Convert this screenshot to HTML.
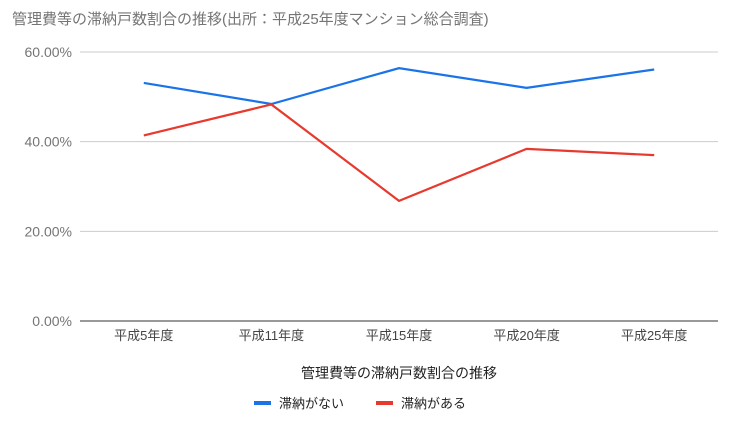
<!DOCTYPE html>
<html><head><meta charset="utf-8"><style>
body{margin:0;background:#fff;}
svg{display:block;font-family:"Liberation Sans","Noto Sans CJK JP",sans-serif;}
</style></head><body>
<svg id="chart" width="730" height="430">
<text x="12" y="24" font-size="15" fill="#757575">管理費等の滞納戸数割合の推移(出所：平成25年度マンション総合調査)</text>
<g id="grid"></g><g id="series"></g>
<text x="399" y="378" font-size="14" fill="#222" text-anchor="middle">管理費等の滞納戸数割合の推移</text>
<g>
<rect x="254" y="401" width="17" height="4" fill="#1a73e8"/>
<text x="279" y="408" font-size="13" fill="#222">滞納がない</text>
<rect x="376" y="401" width="17" height="4" fill="#e8392e"/>
<text x="401" y="408" font-size="13" fill="#222">滞納がある</text>
</g>
</svg>
<script>
const categories=["平成5年度","平成11年度","平成15年度","平成20年度","平成25年度"];
const noArrears=[53.1,48.4,56.4,52.0,56.1];
const arrears=[41.4,48.3,26.8,38.4,37.0];
const yTicks=[0,20,40,60];
const tickLabels=["0.00%","20.00%","40.00%","60.00%"];
const NS="http://www.w3.org/2000/svg";
const L=80,R=718,T=52,B=321;
const y=v=>B-(v/60)*(B-T);
const x=i=>L+(i+0.5)*(R-L)/categories.length;
const grid=document.getElementById('grid'),ser=document.getElementById('series');
function mk(tag,at,p){const e=document.createElementNS(NS,tag);for(const k in at)e.setAttribute(k,at[k]);p.appendChild(e);return e;}
yTicks.forEach((t,i)=>{
 const ln=mk('line',{x1:L,x2:R,y1:y(t),y2:y(t),stroke:t===0?'#333':'#ccc','stroke-width':1},grid);
 
 
 const tx=mk('text',{x:72,y:y(t)+5,'font-size':14,fill:'#757575','text-anchor':'end'},grid);
 tx.textContent=tickLabels[i];
 
 
});
categories.forEach((c,i)=>{
 const tx=mk('text',{x:x(i),y:340,'font-size':13,fill:'#444','text-anchor':'middle'},grid);
 tx.textContent=c;
 
 
});
[[noArrears,'#1a73e8','line-no-arrears'],[arrears,'#e8392e','line-arrears']].forEach(([d,col,n])=>{
 const p=mk('polyline',{points:d.map((v,i)=>x(i)+','+y(v)).join(' '),fill:'none',stroke:col,'stroke-width':2.2},ser);
 
 
});
</script>
</body></html>
